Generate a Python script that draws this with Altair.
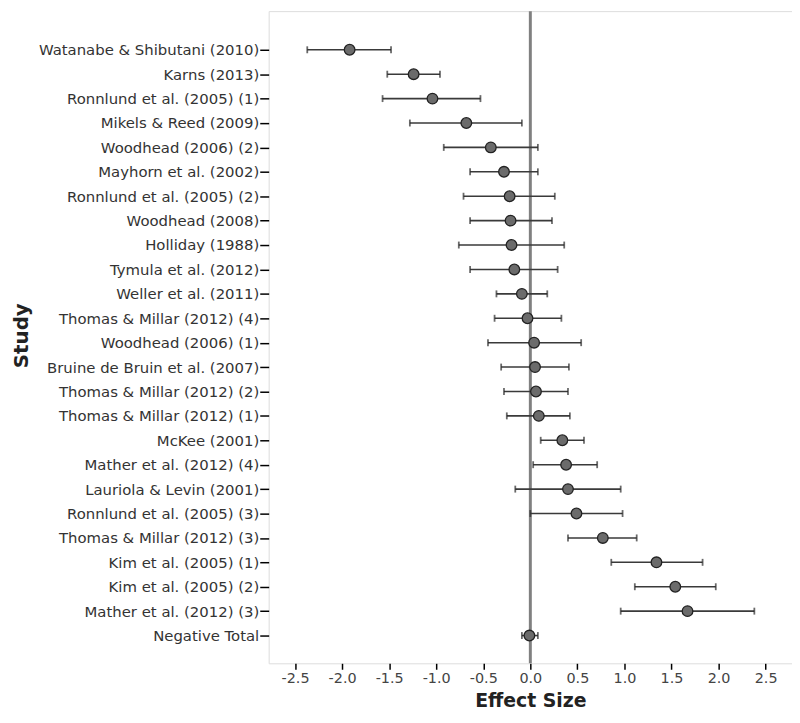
import altair as alt
import pandas as pd

studies = [
    "Watanabe & Shibutani (2010)", "Karns (2013)", "Ronnlund et al. (2005) (1)",
    "Mikels & Reed (2009)", "Woodhead (2006) (2)", "Mayhorn et al. (2002)",
    "Ronnlund et al. (2005) (2)", "Woodhead (2008)", "Holliday (1988)",
    "Tymula et al. (2012)", "Weller et al. (2011)", "Thomas & Millar (2012) (4)",
    "Woodhead (2006) (1)", "Bruine de Bruin et al. (2007)", "Thomas & Millar (2012) (2)",
    "Thomas & Millar (2012) (1)", "McKee (2001)", "Mather et al. (2012) (4)",
    "Lauriola & Levin (2001)", "Ronnlund et al. (2005) (3)", "Thomas & Millar (2012) (3)",
    "Kim et al. (2005) (1)", "Kim et al. (2005) (2)", "Mather et al. (2012) (3)",
    "Negative Total",
]
effect = [-1.92, -1.24, -1.04, -0.68, -0.42, -0.28, -0.22, -0.21, -0.20, -0.17,
          -0.09, -0.03, 0.04, 0.05, 0.06, 0.09, 0.34, 0.38, 0.40, 0.49,
          0.77, 1.34, 1.54, 1.67, -0.01]
lower = [-2.37, -1.52, -1.57, -1.28, -0.92, -0.64, -0.71, -0.64, -0.76, -0.64,
         -0.36, -0.38, -0.45, -0.31, -0.28, -0.25, 0.11, 0.03, -0.16, 0.00,
         0.40, 0.86, 1.11, 0.96, -0.09]
upper = [-1.48, -0.96, -0.53, -0.09, 0.08, 0.08, 0.26, 0.23, 0.36, 0.29,
         0.18, 0.33, 0.54, 0.41, 0.40, 0.42, 0.57, 0.71, 0.96, 0.98,
         1.13, 1.83, 1.97, 2.38, 0.08]
x_ticks = [-2.5, -2.0, -1.5, -1.0, -0.5, 0.0, 0.5, 1.0, 1.5, 2.0, 2.5]

df = pd.DataFrame({"study": studies, "effect": effect, "lower": lower, "upper": upper})

FONT = "DejaVu Sans"
W, H = 528, 658

xscale = alt.Scale(domain=[-2.78, 2.78], nice=False, zero=False)
yscale = alt.Scale(type="point", range=[39, 630], padding=0)

xaxis = alt.Axis(
    values=x_ticks, title="Effect Size", domain=False, grid=False,
    labelExpr="replace(format(datum.value, '.1f'), '\u2212', '-')",
    tickColor="#000000", tickSize=6, tickWidth=1.5,
    labelFont=FONT, labelFontSize=14.5, labelColor="#444444", labelPadding=2,
    titleFont=FONT, titleFontSize=19, titleFontWeight="bold", titleColor="#222222",
    titleBaseline="alphabetic", titleY=44, titleX=W / 2,
)
yaxis = alt.Axis(
    title="Study", domain=False, grid=False, labelLimit=0,
    tickColor="#000000", tickSize=9, tickWidth=1.5,
    labelFont=FONT, labelFontSize=15, labelColor="#333333", labelPadding=1,
    titleFont=FONT, titleFontSize=20, titleFontWeight="bold", titleColor="#222222",
    titleX=-243, titleY=327, titleAngle=270, titleAnchor="middle",
    titleBaseline="alphabetic",
)

base = alt.Chart(df)

zero = alt.Chart(pd.DataFrame({"z": [0.0]})).mark_rule(color="#808080", strokeWidth=3).encode(
    x=alt.X("z:Q", scale=xscale, axis=xaxis)
)

bars = base.mark_rule(color="#3a3a3a", strokeWidth=1.6).encode(
    x=alt.X("lower:Q", scale=xscale, axis=xaxis),
    x2="upper:Q",
    y=alt.Y("study:N", sort=studies, scale=yscale, axis=yaxis),
)
cap_lo = base.mark_tick(color="#2a2a2a", size=7, thickness=1.8).encode(
    x=alt.X("lower:Q", scale=xscale),
    y=alt.Y("study:N", sort=studies, scale=yscale),
)
cap_hi = base.mark_tick(color="#2a2a2a", size=7, thickness=1.8).encode(
    x=alt.X("upper:Q", scale=xscale),
    y=alt.Y("study:N", sort=studies, scale=yscale),
)
pts = base.mark_point(filled=True, shape="circle", size=115, fill="#6b6b6b",
                      stroke="#222222", strokeWidth=1.3, opacity=1).encode(
    x=alt.X("effect:Q", scale=xscale),
    y=alt.Y("study:N", sort=studies, scale=yscale),
)

chart = alt.layer(zero, bars, cap_lo, cap_hi, pts).properties(
    width=W, height=H,
    autosize=alt.AutoSizeParams(type="none"),
    padding={"left": 263, "top": 0, "right": 0, "bottom": 49},
).configure_view(
    stroke="#808080", strokeWidth=2.5
).configure(background="white")

chart.save("out.html", embed_options={"renderer": "svg", "actions": False})
